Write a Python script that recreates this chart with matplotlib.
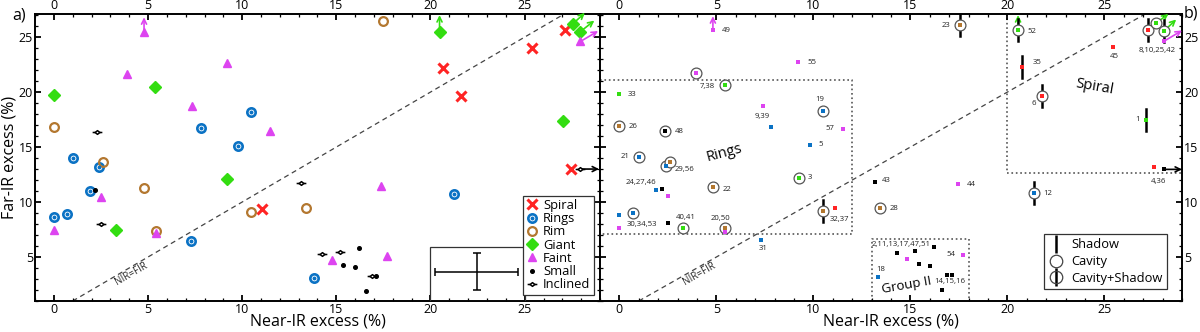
import matplotlib
matplotlib.use("Agg")
import matplotlib.pyplot as plt
from matplotlib.lines import Line2D
from matplotlib.path import Path
from matplotlib.patches import Rectangle
from matplotlib.ticker import MultipleLocator

plt.rcParams["font.family"] = ["Open Sans", "DejaVu Sans"]
plt.rcParams["axes.linewidth"] = 1.4

COLORS = {"spiral": "#ff2424", "rings": "#0b72c4", "rim": "#b3772f",
          "giant": "#33dd11", "faint": "#dd44f0", "small": "black"}

# ---- panel a): classes ----
spiral_x = [11.07, 20.65, 21.64, 25.4, 27.13, 27.46]
spiral_y = [9.4, 22.2, 19.6, 24.0, 25.6, 13.0]
rings_x = [10.49, 7.8, 9.8, 1.0, 2.4, 1.9, 0.0, 0.7, 7.27, 21.27, 13.8]
rings_y = [18.2, 16.7, 15.1, 14.0, 13.2, 11.0, 8.67, 8.9, 6.5, 10.7, 3.1]
rim_x = [0.0, 2.6, 4.77, 5.4, 10.49, 13.37, 17.5]
rim_y = [16.8, 13.6, 11.3, 7.4, 9.1, 9.5, 26.5]
giant_x = [0.02, 5.37, 9.2, 3.3, 20.48, 27.55, 27.96, 27.06]
giant_y = [19.7, 20.5, 12.1, 7.5, 25.5, 26.2, 25.5, 17.4]
faint_x = [4.79, 3.89, 9.2, 7.36, 11.5, 2.5, 0.0, 5.4, 17.38, 14.78, 17.68, 27.96]
faint_y = [25.5, 21.6, 22.6, 18.7, 16.45, 10.5, 7.5, 7.15, 11.5, 4.73, 5.1, 24.6]
small_x = [2.2, 16.18, 15.38, 15.98, 17.1, 16.59]
small_y = [11.1, 5.8, 4.27, 4.1, 3.27, 1.88]
incl_x = [2.3, 2.5, 13.1, 14.25, 15.17, 16.87, 27.96]
incl_y = [16.4, 8.0, 11.7, 5.27, 5.48, 3.27, 13.0]

# lower-limit arrows: (x0, y0, x1, y1, class)
arrows_a = [(4.79, 25.5, 4.79, 26.8, "faint"), (20.48, 25.5, 20.48, 27.0, "giant"),
            (27.55, 26.2, 28.2, 27.2, "giant"), (27.96, 25.5, 28.7, 26.5, "giant"),
            (27.96, 24.6, 28.9, 25.55, "faint"), (27.96, 13.0, 28.95, 13.0, "small")]

# typical uncertainty
err_x, err_y = 22.46, 3.66
err_dx, err_dy = 2.21, 1.7
ERR_BOX = (20, 1, 5, 4.95)

# ---- panel b): numbered sources ----
rp_x = [4.82, 9.23, 3.93, 5.43, 0.0, 7.42, 7.8, 10.52, 11.54, 9.83,
        0.0, 2.33, 1.03, 2.41, 2.6, 1.9, 2.2, 2.52, 4.82, 9.25,
        13.15, 13.45, 10.52, 11.12, 0.0, 0.7, 0.0, 2.52, 3.3, 5.43,
        5.43, 7.32, 13.35, 14.3, 15.23, 16.21, 14.83, 15.44, 16.02, 16.9,
        17.14, 16.64, 17.73, 17.45, 21.36, 27.56, 28.08, 17.54, 20.55, 20.74,
        21.76, 25.46, 27.15, 27.27, 27.66, 28.08, 28.05]
rp_y = [25.6, 22.7, 21.7, 20.6, 19.8, 18.75, 16.8, 18.3, 16.6, 15.2,
        16.9, 16.5, 14.06, 13.3, 13.66, 11.1, 11.2, 10.57, 11.4, 12.2,
        11.8, 9.5, 9.2, 9.48, 8.8, 9.0, 7.6, 8.1, 7.6, 7.6,
        7.3, 6.57, 3.2, 5.36, 5.57, 5.88, 4.82, 4.36, 4.18, 3.39,
        3.39, 2.0, 5.18, 11.6, 10.8, 13.2, 12.97, 26.1, 25.6, 22.3,
        19.66, 24.06, 17.5, 25.66, 26.27, 25.57, 24.6]
rp_cls = ["faint", "faint", "faint", "giant", "giant", "faint", "rings", "rings", "faint", "rings",
          "rim", "small", "rings", "rings", "rim", "rings", "small", "faint", "rim", "giant",
          "small", "rim", "rim", "spiral", "rings", "rings", "faint", "small", "giant", "rim",
          "faint", "rings", "rings", "small", "small", "small", "faint", "small", "small", "small",
          "small", "small", "faint", "faint", "rings", "spiral", "small", "rim", "giant", "spiral",
          "spiral", "spiral", "giant", "spiral", "giant", "giant", "faint"]
rp_cavity = [2, 3, 7, 10, 11, 12, 13, 14, 18, 19, 21, 22, 25, 28, 29,
             44, 47, 48, 50, 53, 54, 55]
rp_shadow = [22, 44, 47, 48, 49, 50, 52, 53, 55]

arrows_b = [(4.82, 25.6, 4.82, 26.9, "faint"), (20.55, 25.6, 20.55, 27.0, "giant"),
            (27.66, 26.27, 28.3, 27.1, "giant"), (28.08, 25.57, 28.7, 26.6, "giant"),
            (28.05, 24.6, 29.0, 25.6, "faint"), (28.08, 12.97, 29.0, 12.97, "small")]

# source labels: (text, x, y, ha)
rp_labels = [("49", 5.3, 25.6, "left"), ("55", 9.7, 22.7, "left"),
             ("7,38", 4.9, 20.55, "right"), ("33", 0.45, 19.8, "left"),
             ("9,39", 7.35, 17.75, "center"), ("19", 10.35, 19.35, "center"),
             ("57", 11.1, 16.65, "right"), ("5", 10.25, 15.2, "left"),
             ("26", 0.5, 16.9, "left"), ("48", 2.85, 16.4, "left"),
             ("21", 0.5, 14.1, "right"), ("29,56", 2.85, 12.95, "left"),
             ("24,27,46", 1.1, 11.8, "center"), ("22", 5.3, 11.1, "left"),
             ("3", 9.7, 12.2, "left"), ("43", 13.55, 12.0, "left"),
             ("28", 13.95, 9.4, "left"), ("32,37", 10.85, 8.45, "left"),
             ("30,34,53", 0.35, 7.95, "left"), ("40,41", 3.4, 8.55, "center"),
             ("20,50", 5.2, 8.5, "center"), ("31", 7.4, 5.8, "center"),
             ("18", 13.45, 3.85, "center"), ("2,11,13,17,47,51", 14.5, 6.15, "center"),
             ("14,15,16", 17.05, 2.75, "center"), ("54", 17.3, 5.2, "right"),
             ("44", 17.9, 11.55, "left"), ("12", 21.85, 10.8, "left"),
             ("4,36", 27.8, 11.85, "center"), ("23", 17.05, 26.05, "right"),
             ("52", 21.05, 25.55, "left"), ("35", 21.3, 22.7, "left"),
             ("6", 21.45, 19.0, "right"), ("45", 25.5, 23.25, "center"),
             ("1", 26.8, 17.5, "right"), ("8,10,25,42", 27.7, 23.75, "center")]

RINGS_BOX = (-1, 12, 7.05, 21.1)
SPIRAL_BOX = (20, 29, 12.6, 27.1)
GROUP_BOX = (13, 18, 1, 6.6)

XLIM = (-1, 29)
YLIM = (1, 27.1)

# inclined marker: open eye shape with short tails
incl_marker = Path([(-1, 0), (-0.5, 0), (0.5, 0), (1, 0),
                    (-0.5, 0), (0, 0.38), (0.5, 0), (0, -0.38), (-0.5, 0)],
                   [Path.MOVETO, Path.LINETO, Path.MOVETO, Path.LINETO,
                    Path.MOVETO, Path.LINETO, Path.LINETO, Path.LINETO, Path.CLOSEPOLY])


def style_axes(ax):
    ax.set_xlim(*XLIM)
    ax.set_ylim(*YLIM)
    ax.xaxis.set_major_locator(MultipleLocator(5))
    ax.xaxis.set_minor_locator(MultipleLocator(1))
    ax.yaxis.set_major_locator(MultipleLocator(5))
    ax.yaxis.set_minor_locator(MultipleLocator(1))
    ax.tick_params(which="both", direction="in", top=True, bottom=True,
                   left=True, right=True, labeltop=True, labelbottom=True,
                   labelsize=9, pad=1.5)
    ax.tick_params(which="major", length=4.5, width=1.3)
    ax.tick_params(which="minor", length=2.5, width=0.9)
    ax.plot([1, 30], [1, 30], ls=(0, (4, 3)), color="#444444", lw=0.9, zorder=1)
    ax.text(4.1, 3.45, "NIR=FIR", rotation=30, fontsize=7, ha="center",
            va="center", rotation_mode="anchor", color="#222222")
    ax.set_xlabel("Near-IR excess (%)", fontsize=11.5, labelpad=-1.5)


def draw_arrows(ax, arrows):
    for x0, y0, x1, y1, c in arrows:
        ax.annotate("", xy=(x1, y1), xytext=(x0, y0), annotation_clip=False,
                    arrowprops=dict(arrowstyle="->", color=COLORS[c], lw=1.2,
                                    shrinkA=0, shrinkB=0, mutation_scale=9))


fig = plt.figure(figsize=(12, 3.32), dpi=100)
ax1 = fig.add_axes([35 / 1200, 31 / 332, 565 / 1200, 287 / 332])
ax2 = fig.add_axes([600 / 1200, 31 / 332, 582 / 1200, 287 / 332])

# ---------------- panel a ----------------
style_axes(ax1)
ax1.tick_params(axis="y", labelright=False)
draw_arrows(ax1, arrows_a)
h_sp, = ax1.plot(spiral_x, spiral_y, ls="none", marker="x", ms=7, mew=2.2,
                 color=COLORS["spiral"], zorder=5)
h_ri, = ax1.plot(rings_x, rings_y, ls="none", marker="o", ms=6, mew=1.9,
                 mfc="white", mec=COLORS["rings"], zorder=5)
h_rd, = ax1.plot(rings_x, rings_y, ls="none", marker="o", ms=1.8,
                 color=COLORS["rings"], zorder=6)
h_rm, = ax1.plot(rim_x, rim_y, ls="none", marker="o", ms=6.3, mew=1.6,
                 mfc="none", mec=COLORS["rim"], zorder=5)
h_gi, = ax1.plot(giant_x, giant_y, ls="none", marker="D", ms=5.8,
                 color=COLORS["giant"], zorder=5)
h_fa, = ax1.plot(faint_x, faint_y, ls="none", marker="^", ms=6.3,
                 color=COLORS["faint"], zorder=5)
h_sm, = ax1.plot(small_x, small_y, ls="none", marker="o", ms=2.6,
                 color="black", zorder=6)
h_in, = ax1.plot(incl_x, incl_y, ls="none", marker=incl_marker, ms=7, mew=1.1,
                 mfc="white", mec="black", zorder=6)

ax1.add_patch(Rectangle(ERR_BOX[:2], ERR_BOX[2], ERR_BOX[3], fill=False,
                        ec="#333333", lw=0.9, zorder=3))
ax1.errorbar([err_x], [err_y], xerr=[err_dx], yerr=[err_dy], fmt="none",
             ecolor="black", elinewidth=1.1, capsize=3, capthick=1.1, zorder=4)

leg1 = ax1.legend([h_sp, (h_ri, h_rd), h_rm, h_gi, h_fa, h_sm, h_in],
                  ["Spiral", "Rings", "Rim", "Giant", "Faint", "Small", "Inclined"],
                  loc="lower right", fontsize=9.3, labelspacing=0.02,
                  handlelength=0.9, handletextpad=0.4, borderpad=0.25,
                  borderaxespad=0.5, fancybox=False, framealpha=1,
                  edgecolor="#333333")
leg1.get_frame().set_linewidth(0.9)
ax1.set_ylabel("Far-IR excess (%)", fontsize=11.5, labelpad=1)

# ---------------- panel b ----------------
style_axes(ax2)
ax2.tick_params(axis="y", labelleft=False, labelright=True)

x0, x1, y0, y1 = RINGS_BOX
ax2.plot([x0, x1, x1, x0], [y1, y1, y0, y0], ls=":", color="#555555", lw=1.2, zorder=1)
x0, x1, y0, y1 = SPIRAL_BOX
ax2.plot([x0, x0, x1], [y1, y0, y0], ls=":", color="#555555", lw=1.2, zorder=1)
x0, x1, y0, y1 = GROUP_BOX
ax2.plot([x0, x0, x1, x1], [y0, y1, y1, y0], ls=":", color="#555555", lw=1.2, zorder=1)

ax2.text(5.4, 14.5, "Rings", rotation=15, fontsize=10.5, ha="center", va="center")
ax2.text(24.5, 20.5, "Spiral", rotation=-10, fontsize=10.5, ha="center", va="center")
ax2.text(14.8, 2.4, "Group II", rotation=10, fontsize=9.5, ha="center", va="center")

draw_arrows(ax2, arrows_b)
for i in rp_shadow:
    ax2.plot([rp_x[i], rp_x[i]], [rp_y[i] - 1.0, rp_y[i] + 1.0], color="black",
             lw=1.8, zorder=3)
for i in rp_cavity:
    ax2.plot(rp_x[i], rp_y[i], marker="o", ms=7.8, mfc="white", mec="#555555",
             mew=0.9, zorder=4)
for x, y, c in zip(rp_x, rp_y, rp_cls):
    ax2.plot(x, y, marker="s", ms=2.4, color=COLORS[c], mew=0, zorder=5)
for t, x, y, ha in rp_labels:
    ax2.text(x, y, t, fontsize=5.6, ha=ha, va="center", color="#222222", zorder=6)

h_sh = Line2D([], [], ls="none", marker="|", ms=13, mew=1.8, color="black")
h_cv = Line2D([], [], ls="none", marker="o", ms=9, mfc="none", mec="#444444", mew=0.9)
leg2 = ax2.legend([h_sh, h_cv, (h_sh, h_cv)], ["Shadow", "Cavity", "Cavity+Shadow"],
                  loc="lower right", bbox_to_anchor=(0.985, 0.02), fontsize=9.3,
                  labelspacing=0.3, handlelength=1.2, handletextpad=0.6,
                  borderpad=0.3, fancybox=False, framealpha=1, edgecolor="#333333")
leg2.get_frame().set_linewidth(0.9)

fig.text(19 / 1200, 1 - 15 / 332, "a)", fontsize=11.5, ha="center", va="center")
fig.text(1191 / 1200, 1 - 14 / 332, "b)", fontsize=11.5, ha="center", va="center")

fig.savefig("out.png", dpi=100)
